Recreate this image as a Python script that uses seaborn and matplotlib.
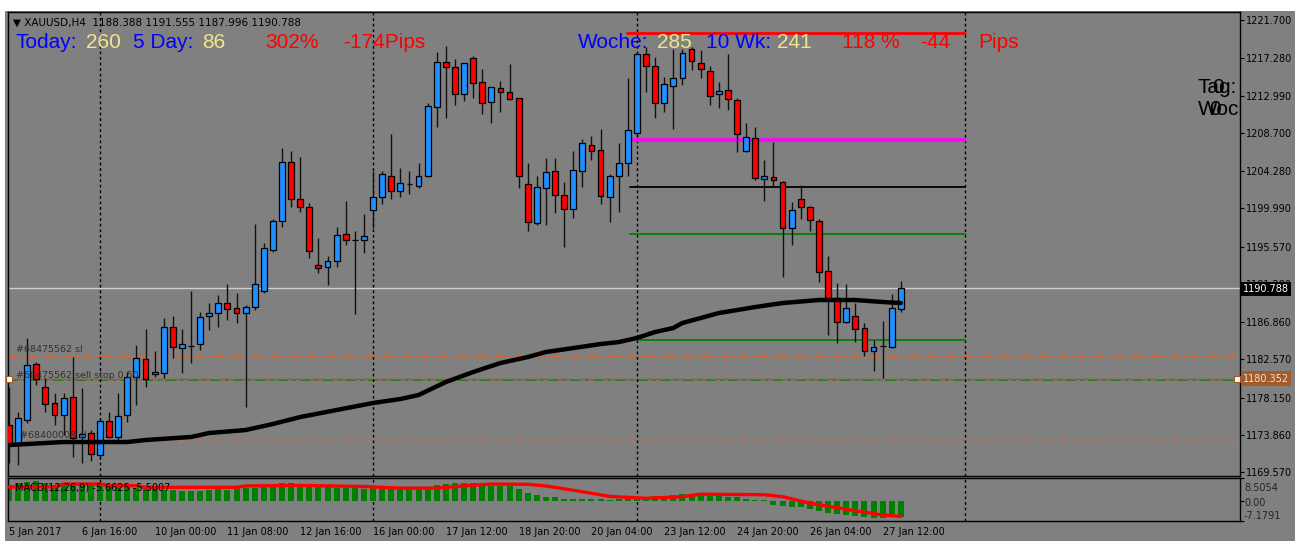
import numpy as np
import seaborn as sns
import matplotlib
matplotlib.use("Agg")
import matplotlib.pyplot as plt
from matplotlib.patches import Rectangle

# ---- data (XAUUSD H4) ----
open_ = [1174.99, 1172.91, 1175.57, 1182.03, 1179.37, 1177.53, 1176.14, 1178.22, 1173.61, 1174.07,
         1171.53, 1175.45, 1173.61, 1176.14, 1180.53, 1182.60, 1180.87, 1180.99, 1186.29, 1183.87,
         1184.10, 1184.33, 1187.56, 1187.91, 1189.06, 1188.49, 1187.91, 1188.60, 1190.45, 1195.17,
         1198.52, 1205.32, 1201.06, 1200.13, 1193.44, 1193.21, 1193.91, 1197.02, 1196.33, 1196.33,
         1199.79, 1201.29, 1203.71, 1201.98, 1202.79, 1202.56, 1203.71, 1211.67, 1216.86, 1216.28,
         1213.17, 1217.32, 1214.55, 1212.25, 1213.86, 1213.40, 1212.71, 1202.79, 1198.29, 1202.33,
         1204.29, 1201.52, 1199.90, 1204.29, 1207.29, 1206.71, 1201.29, 1203.71, 1205.21, 1208.67,
         1217.78, 1216.40, 1212.13, 1214.09, 1215.01, 1218.36, 1216.74, 1215.82, 1213.17, 1213.63,
         1212.48, 1206.59, 1208.09, 1203.36, 1203.59, 1203.02, 1197.71, 1201.06, 1200.13, 1198.52,
         1192.75, 1189.64, 1186.87, 1187.56, 1186.18, 1183.53, 1184.10, 1183.99, 1188.388]
high = [1179.37, 1176.49, 1185.03, 1182.26, 1180.41, 1178.68, 1178.68, 1182.83, 1179.26, 1174.41,
        1175.80, 1176.49, 1178.68, 1181.10, 1184.22, 1186.06, 1183.53, 1187.33, 1187.56, 1186.06,
        1190.45, 1188.02, 1189.06, 1189.98, 1191.25, 1190.22, 1188.83, 1198.17, 1195.98, 1198.75,
        1206.94, 1206.59, 1205.90, 1200.60, 1196.56, 1194.48, 1197.83, 1200.83, 1197.37, 1199.33,
        1204.29, 1204.29, 1208.55, 1204.63, 1204.29, 1205.21, 1212.13, 1218.01, 1218.70, 1217.20,
        1216.74, 1217.55, 1216.05, 1213.98, 1214.67, 1216.63, 1212.75, 1205.21, 1203.71, 1205.79,
        1205.79, 1203.02, 1206.59, 1207.98, 1208.32, 1209.13, 1203.94, 1207.52, 1215.01, 1218.00,
        1218.59, 1217.44, 1215.13, 1218.36, 1218.36, 1218.59, 1218.24, 1216.40, 1214.55, 1217.78,
        1212.71, 1209.82, 1209.36, 1205.56, 1207.63, 1203.10, 1200.71, 1202.67, 1200.20, 1198.70,
        1194.48, 1191.37, 1191.25, 1189.06, 1186.76, 1184.79, 1186.99, 1190.10, 1191.555]
low = [1170.61, 1170.38, 1175.22, 1179.60, 1176.49, 1174.99, 1173.84, 1171.30, 1170.61, 1170.84,
       1171.18, 1173.49, 1173.03, 1175.34, 1177.30, 1179.37, 1180.53, 1180.41, 1182.72, 1180.99,
       1182.14, 1183.64, 1185.95, 1186.29, 1187.10, 1186.76, 1177.07, 1188.25, 1190.22, 1194.94,
       1197.83, 1200.13, 1199.56, 1194.25, 1192.52, 1191.14, 1193.21, 1195.75, 1187.79, 1194.83,
       1197.71, 1200.48, 1201.06, 1201.29, 1201.63, 1202.33, 1203.59, 1209.36, 1210.40, 1211.90,
       1212.36, 1212.71, 1210.86, 1209.82, 1211.09, 1212.48, 1202.33, 1197.37, 1198.06, 1198.06,
       1199.44, 1195.52, 1198.87, 1202.44, 1205.56, 1200.48, 1198.40, 1199.56, 1203.71, 1208.44,
       1213.40, 1210.40, 1211.09, 1209.13, 1214.21, 1215.94, 1215.01, 1211.90, 1211.55, 1211.32,
       1206.48, 1206.50, 1203.25, 1200.83, 1202.44, 1192.06, 1195.75, 1198.75, 1197.37, 1191.48,
       1185.37, 1184.45, 1186.80, 1184.56, 1182.95, 1181.22, 1180.41, 1183.87, 1187.996]
close = [1172.91, 1175.80, 1181.91, 1180.30, 1177.41, 1176.14, 1178.10, 1173.49, 1173.95, 1171.65,
         1175.45, 1173.61, 1176.03, 1180.53, 1182.72, 1180.30, 1181.10, 1186.29, 1183.99, 1184.33,
         1184.15, 1187.45, 1187.91, 1189.06, 1188.37, 1187.91, 1188.60, 1191.25, 1195.41, 1198.52,
         1205.32, 1201.06, 1200.13, 1195.06, 1193.10, 1193.91, 1196.91, 1196.33, 1196.30, 1196.79,
         1201.29, 1203.94, 1201.98, 1202.90, 1202.79, 1203.71, 1211.78, 1216.86, 1216.28, 1213.17,
         1216.74, 1214.44, 1212.13, 1213.98, 1213.40, 1212.59, 1203.71, 1198.40, 1202.44, 1204.17,
         1201.52, 1199.90, 1204.40, 1207.52, 1206.59, 1201.40, 1203.71, 1205.21, 1209.02, 1217.78,
         1216.40, 1212.13, 1214.32, 1215.01, 1217.90, 1216.97, 1216.05, 1212.94, 1213.51, 1212.59,
         1208.55, 1208.21, 1203.48, 1203.71, 1203.25, 1197.71, 1199.79, 1200.13, 1198.64, 1192.64,
         1189.64, 1186.87, 1188.49, 1186.06, 1183.53, 1183.99, 1184.15, 1188.49, 1190.788]

# moving average (read at some bars)
ma_bar = [0, 2, 6, 13, 15, 20, 22, 26, 29, 32, 36, 40, 43, 45, 48, 51, 54, 57, 59, 62,
          65, 67, 69, 71, 73, 74, 76, 78, 80, 82, 85, 89, 93, 96, 98]
ma_val = [1172.68, 1172.80, 1173.03, 1173.03, 1173.26, 1173.61, 1174.07, 1174.41, 1175.11, 1175.91,
          1176.72, 1177.53, 1177.99, 1178.45, 1179.95, 1181.10, 1182.14, 1182.83, 1183.41, 1183.87,
          1184.33, 1184.56, 1185.03, 1185.72, 1186.18, 1186.76, 1187.33, 1187.91, 1188.25, 1188.60,
          1189.06, 1189.41, 1189.41, 1189.18, 1189.06]

# MACD(12,26,9) histogram, one per bar
macd = [5.9, 6.6, 7.2, 7.4, 6.6, 6.0, 6.6, 6.6, 6.6, 6.0,
        6.0, 5.6, 5.2, 5.2, 4.7, 4.7, 4.4, 4.2, 4.2, 3.9,
        3.9, 3.9, 4.2, 4.4, 4.2, 4.7, 4.7, 4.7, 5.2, 5.6,
        6.6, 6.6, 6.3, 6.0, 5.6, 5.2, 5.0, 4.7, 4.7, 4.4,
        4.7, 4.7, 4.7, 4.7, 4.7, 4.7, 5.2, 5.9, 6.2, 6.6,
        6.6, 6.6, 5.9, 5.6, 5.6, 5.6, 4.5, 3.1, 2.3, 1.7,
        1.45, 0.7, 0.7, 0.7, 0.7, 0.7, 0.5, 0.7, 0.7, 1.45,
        1.7, 2.0, 2.0, 2.3, 2.6, 2.6, 2.3, 2.0, 2.0, 1.7,
        1.45, 0.7, 0.4, 0.35, -1.35, -1.7, -1.9, -2.2, -2.9, -3.4,
        -4.1, -4.6, -5.0, -5.4, -5.6, -6.2, -6.2, -5.8, -5.6625]
sig_bar = [0, 5, 6, 10, 11, 14, 15, 25, 26, 32, 39, 43, 47, 51, 53, 57, 59, 63, 66, 70,
           74, 76, 83, 85, 88, 92, 96, 98]
sig_val = [5.2, 5.3, 6.3, 6.3, 5.7, 5.7, 5.1, 5.1, 5.6, 5.8, 5.4, 4.8, 4.8, 5.9, 6.3, 6.2,
           5.6, 3.5, 1.8, 1.1, 1.7, 2.6, 2.4, 1.7, -0.7, -2.9, -5.0, -5.5007]

# weekly levels drawn from 23 Jan to the week end
lvl_price = [1220.20, 1207.86, 1202.44, 1197.02, 1184.79]
lvl_start = [67.9, 68.5, 68.2, 68.2, 69.0]
lvl_end = 105.0
lvl_color = ["#ff0000", "#ff00ff", "#000000", "#008000", "#008000"]
lvl_width = [2.0, 2.6, 1.3, 1.3, 1.3]

bid = 1190.788
sell_stop = 1180.352
sl_a = 1182.95
sl_b = 1173.14
pending = 1180.18

week_sep = [10, 40, 69, 105]
tick_bars = [0, 8, 16, 24, 32, 40, 48, 56, 64, 72, 80, 88, 96]
tick_labels = ["5 Jan 2017", "6 Jan 16:00", "10 Jan 00:00", "11 Jan 08:00", "12 Jan 16:00",
               "16 Jan 00:00", "17 Jan 12:00", "18 Jan 20:00", "20 Jan 04:00", "23 Jan 12:00",
               "24 Jan 20:00", "26 Jan 04:00", "27 Jan 12:00"]
price_ticks = [1169.57, 1173.86, 1178.15, 1182.57, 1186.86, 1191.28, 1195.57, 1199.99,
               1204.28, 1208.70, 1212.99, 1217.28, 1221.70]

# ---- figure ----
sns.set_style("white")
plt.rcParams["font.family"] = ["DejaVu Sans"]

W, H = 1304, 541
BG = "#808080"
fig = plt.figure(figsize=(W / 100, H / 100), dpi=100)
fig.patch.set_facecolor("white")
fig.patches.append(Rectangle((5 / W, 0), 1290 / W, 530 / H, transform=fig.transFigure,
                             fc=BG, ec="none", zorder=-10))


def fx(x):
    return x / W


def fy(y):
    return 1 - y / H


ax = fig.add_axes([fx(8), fy(476), fx(1240) - fx(8), fy(12) - fy(476)])
ax2 = fig.add_axes([fx(8), fy(521), fx(1240) - fx(8), fy(478) - fy(521)])
for a in (ax, ax2):
    a.set_facecolor(BG)
    a.set_xlim(-0.11, 135.27)
    for s in a.spines.values():
        s.set_color("black")
        s.set_linewidth(1)

n = len(close)
idx = np.arange(n)
o = np.array(open_)
c = np.array(close)
up = c >= o
body_col = np.where(up, "#1e90ff", "#ff0000")
body_h = np.maximum(np.abs(c - o), 0.04)
body_b = np.minimum(o, c)

# horizontal objects
ax.axhline(bid, color="#cfcfcf", lw=1, zorder=1)
ax.axhline(sl_a, color="#f0601e", lw=1, ls=(0, (6, 3, 1.5, 3)), zorder=1)
ax.axhline(sl_b, color="#f0601e", lw=1, ls=(0, (6, 3, 1.5, 3)), zorder=1)
ax.axhline(pending, color="#008000", lw=1.2, ls=(0, (6, 3, 1.5, 3)), zorder=1)
ax.axhline(sell_stop, color="#a0582a", lw=1, zorder=1)
ax.plot([-0.05, 134.9], [sell_stop, sell_stop], ls="none", marker="s", ms=4,
        mfc="white", mec="#a0582a", mew=0.8, zorder=6, clip_on=False)
for p, s0, col, lw in zip(lvl_price, lvl_start, lvl_color, lvl_width):
    ax.plot([s0, lvl_end], [p, p], color=col, lw=lw, zorder=1.5)

for xs in week_sep:
    ax.axvline(xs, color="black", lw=1, ls=(0, (2, 2)), zorder=1.2)
    ax2.axvline(xs, color="black", lw=1, ls=(0, (2, 2)), zorder=1.2)

# candles
ax.vlines(idx, low, high, colors="#111111", lw=1, zorder=2)
ax.bar(idx, body_h, bottom=body_b, width=0.64, color=body_col, edgecolor="black",
       linewidth=0.9, zorder=3)

# moving average
sns.lineplot(x=ma_bar, y=ma_val, ax=ax, color="black", linewidth=3.2, zorder=4,
             legend=False)

ax.set_ylim(1169.11, 1222.63)
ax.set_xlim(-0.11, 135.27)
ax.set_xlabel("")
ax.set_ylabel("")
ax.yaxis.tick_right()
ax.set_yticks(price_ticks, [f"{v:.3f}" for v in price_ticks])
ax.tick_params(axis="y", direction="out", length=3, width=0.8, color="black",
               labelsize=7, pad=1.5, labelcolor="black", left=False, right=True)
ax.tick_params(axis="x", bottom=False, labelbottom=False)

# MACD panel
sns.barplot(x=idx, y=macd, ax=ax2, color="#008000", saturation=1, width=0.66,
            native_scale=True, errorbar=None, linewidth=0, edgecolor="none", zorder=2)
sns.lineplot(x=sig_bar, y=sig_val, ax=ax2, color="#ff0000", linewidth=2.4, zorder=3,
             legend=False)
ax2.set_ylim(-7.1791, 8.5054)
ax2.set_xlim(-0.11, 135.27)
ax2.set_xlabel("")
ax2.set_ylabel("")
ax2.yaxis.tick_right()
ax2.set_yticks([-7.1791, 0, 8.5054], ["", "", ""])
ax2.tick_params(axis="y", direction="out", length=3, width=0.8, color="black",
                left=False, right=True)
ax2.set_xticks(tick_bars, tick_labels)
ax2.tick_params(axis="x", direction="out", length=3, width=0.8, color="black",
                labelsize=7, pad=1.5, labelcolor="black")
for lbl in ax2.get_xticklabels():
    lbl.set_ha("left")

# right-axis boxes and MACD scale
fig.text(fx(1243), fy(289), f"{bid:.3f}", color="white", fontsize=7, va="center",
         ha="left", bbox=dict(boxstyle="square,pad=0.22", fc="black", ec="none"))
fig.text(fx(1243), fy(378.5), f"{sell_stop:.3f}", color="#e6e6e6", fontsize=7,
         va="center", ha="left",
         bbox=dict(boxstyle="square,pad=0.22", fc="#a65a26", ec="none"))
fig.text(fx(1244), fy(488), "8.5054", fontsize=7, va="center", ha="left")
fig.text(fx(1244), fy(503), "0.00", fontsize=7, va="center", ha="left")
fig.text(fx(1244), fy(516), "-7.1791", fontsize=7, va="center", ha="left")

# chart labels
fig.text(fx(13), fy(23), "\u25bc XAUUSD,H4  1188.388 1191.555 1187.996 1190.788",
         fontsize=7.5, va="center", ha="left", color="black")
fig.text(fx(15), fy(488), "MACD(12,26,9) -5.6625 -5.5007", fontsize=7, va="center",
         ha="left", color="black")
fig.text(fx(16), fy(349), "#68475562 sl", fontsize=6.8, va="center", color="#303030")
fig.text(fx(16), fy(375), "#68475562 sell stop 0.50", fontsize=6.8, va="center",
         color="#303030")
fig.text(fx(20), fy(436), "#68400008 sl", fontsize=6.8, va="center", color="#303030")

BIG = dict(fontsize=15, va="baseline", ha="left", family=["Liberation Sans", "DejaVu Sans"])
for x, s, col in [(15, "Today:", "#0000ff"), (86, "260", "#f0e68c"),
                  (133, "5 Day:", "#0000ff"), (202, "86", "#f0e68c"),
                  (265, "302%", "#ff0000"), (343, "-174Pips", "#ff0000"),
                  (578, "Woche:", "#0000ff"), (657, "285", "#f0e68c"),
                  (706, "10 Wk:", "#0000ff"), (777, "241", "#f0e68c"),
                  (842, "118 %", "#ff0000"), (920, "-44", "#ff0000"),
                  (978, "Pips", "#ff0000")]:
    fig.text(fx(x), fy(47.7), s, color=col, **BIG)

for x, y, s in [(1197, 92.5, "Tag:"), (1212, 92.5, "0"), (1198, 115, "Woche:"),
                (1209, 115, "0")]:
    t = ax.text(fx(x), fy(y), s, transform=fig.transFigure, color="black", fontsize=15,
                va="baseline", ha="left", family=["Liberation Sans", "DejaVu Sans"],
                clip_on=True)

fig.savefig("out.png", dpi=100, facecolor=fig.get_facecolor())
